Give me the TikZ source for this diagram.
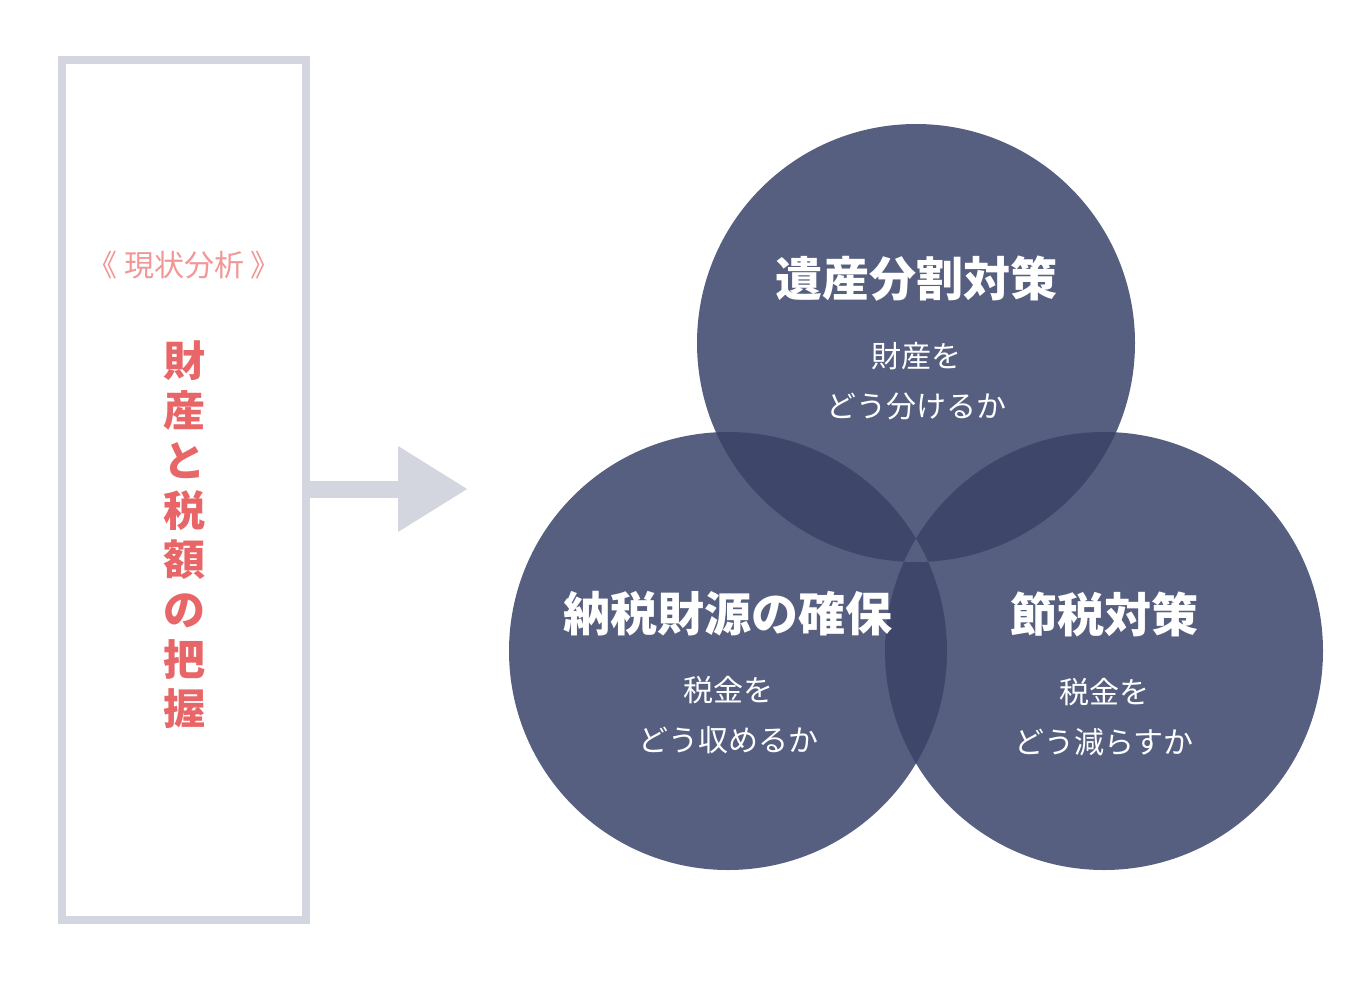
\documentclass[tikz,border=0pt]{standalone}
\usepackage{fontspec}
\setmainfont{Noto Sans CJK JP}
\usetikzlibrary{arrows.meta}

\definecolor{boxgray}{RGB}{211,214,222}
\definecolor{navy}{RGB}{86,95,127}
\definecolor{navydark}{RGB}{62,71,106}
\definecolor{pinklight}{RGB}{242,150,150}
\definecolor{pinkdark}{RGB}{232,102,104}

\tikzset{
	ring/.style={circle, fill=navy, minimum size=438pt, inner sep=0pt},
	title/.style={text=white, font=\bfseries\fontsize{47}{50}\selectfont},
	sub/.style={text=white, font=\fontsize{30}{50}\selectfont, align=center},
}

\begin{document}
\begin{tikzpicture}[x=1pt,y=-1pt]
		
		% frame of the picture
		\useasboundingbox (0,0) rectangle (1368,980);
		
		% left box
		\node[draw=boxgray, line width=8pt, minimum width=244pt, minimum height=860pt, inner sep=0pt] (box) at (184,490) {};
		\node[text=pinklight, font=\fontsize{30}{32}\selectfont] (head) at (184,265) {《 現状分析 》};
		\node[text=pinkdark, font=\bfseries\fontsize{42}{49.7}\selectfont, align=center] (vert) at (184,535)
		{財\\産\\と\\税\\額\\の\\把\\握};
		
		% arrow to the circles
		\coordinate (tip) at (468,489);
		\draw[boxgray, line width=17pt, -{Triangle[length=70pt,width=81pt]}] (box.east |- tip) -- (tip);
		
		% three circles
		\node[ring] (ctop) at (916,343) {};
		\node[ring] (cleft) at (728,651) {};
		\node[ring] (cright) at (1104,651) {};
		
		% overlaps of two circles
		\begin{scope}
			\clip (ctop.center) circle (219);
			\fill[navydark] (cleft.center) circle (219);
			\fill[navydark] (cright.center) circle (219);
		\end{scope}
		\begin{scope}
			\clip (cleft.center) circle (219);
			\fill[navydark] (cright.center) circle (219);
		\end{scope}
		% middle of all three
		\begin{scope}
			\clip (ctop.center) circle (219);
			\clip (cleft.center) circle (219);
			\fill[navy] (cright.center) circle (219);
		\end{scope}
		
		% texts in the circles
		\node[title] (ttop) at (916,279) {遺産分割対策};
		\node[sub] (stop) at (916,381) {財産を\\どう分けるか};
		
		\node[title] (tleft) at (728,614) {納税財源の確保};
		\node[sub] (sleft) at (728,715) {税金を\\どう収めるか};
		
		\node[title] (tright) at (1104,614) {節税対策};
		\node[sub] (sright) at (1104,717) {税金を\\どう減らすか};
		
	\end{tikzpicture}
\end{document}
